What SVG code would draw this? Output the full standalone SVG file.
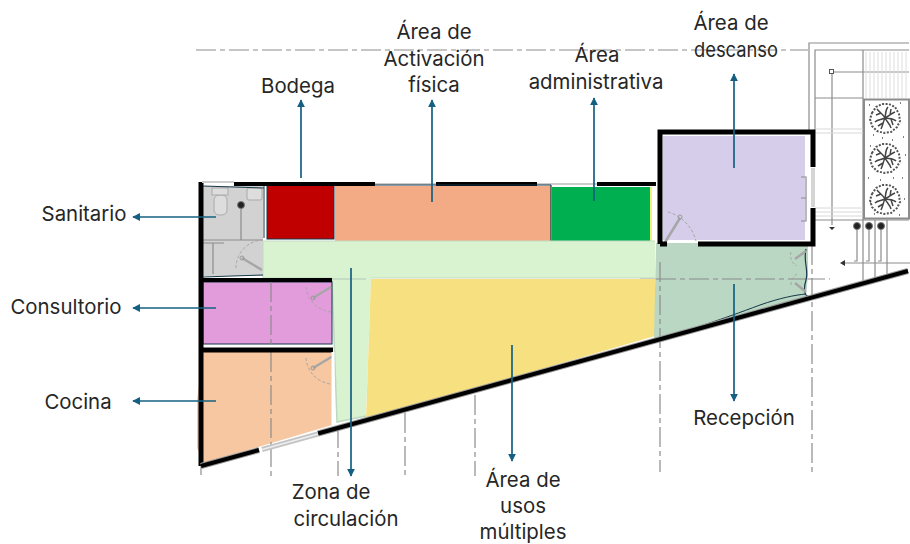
<svg xmlns="http://www.w3.org/2000/svg" width="910" height="544" viewBox="0 0 910 544">
<style>
text{font-family:Inter,"Liberation Sans",Arial,sans-serif;font-size:20.400px;fill:#262626;text-anchor:middle}
.wall{fill:none;stroke:#000;stroke-width:5}
.wall2{fill:none;stroke:#000;stroke-width:4}
.halo{fill:none;stroke:#999;stroke-width:6}
.thin{fill:none;stroke:#8c8c8c;stroke-width:1.200}
.faint{fill:none;stroke:#d8d8d8;stroke-width:1}
.axis{fill:none;stroke:#8c8c8c;stroke-width:1.200;stroke-dasharray:20 4 5 4}
.door{fill:none;stroke:#a6a6a6;stroke-width:1;stroke-dasharray:3 2}
.leaf{fill:none;stroke:#a6a6a6;stroke-width:2.500}
.arrow{fill:none;stroke:#156082;stroke-width:1.700;marker-end:url(#ah)}
.dot{fill:#222;stroke:#777;stroke-width:1}
</style>
<defs>
<marker id="ah" viewBox="0 0 10 10" refX="9" refY="5" markerWidth="4.600" markerHeight="4.600" orient="auto" markerUnits="strokeWidth"><path d="M0 0L10 5L0 10z" fill="#156082"/></marker>
<g id="tree">
<path d="M-13 -5L-9 -11L-3 -14L4 -14L10 -11L14 -4L15 3L12 9L6 14L-1 15L-8 13L-13 8L-15 1Z" fill="#fff" stroke="#555" stroke-width="2" stroke-dasharray="2 1.500"/>
<path d="M0 0C-2 -4 -6 -6 -8 -9M0 0C1 -4 0 -8 3 -11M0 0C4 -2 7 -5 10 -6M0 0C4 1 8 0 11 3M0 0C2 4 5 6 6 10M0 0C-2 4 -2 7 -4 11M0 0C-4 2 -7 1 -10 4M-4 -5L-9 -3M5 -3L6 -9M6 1L8 7M-2 5L-7 8" fill="none" stroke="#444" stroke-width="1.500"/>
</g>
</defs>
<g id="plan-background">
<path class="axis" d="M196 50H808M640 279H830"/>
<path class="axis" d="M812 245V472M660 262V472M405 413V476M475 395V476M271 348V476M338 428V476"/>
<path class="thin" d="M201 465V475"/>
<path class="thin" d="M809 130V43H909M815 130V50H909M815 98H863M863 50V98M832 72H909M832 72V225M815 220H909"/>
<path class="thin" d="M863 98V280"/>
<path class="faint" d="M815 129H863M815 133H863M815 208H863M815 212H863M815 216H863"/>
<rect x="829.500" y="69.500" width="4" height="4" fill="#fff" stroke="#555"/>
<path d="M866 52V98M870 52V98M874 52V98M878 52V98M882 52V98M886 52V98M890 52V98M894 52V98M898 52V98M902 52V98M906 52V98" stroke="#ddd" stroke-width="1"/>
<rect x="864" y="99.500" width="45" height="119" fill="#fff" stroke="#8c8c8c" stroke-width="2"/>
<use href="#tree" x="885" y="118"/><use href="#tree" x="885" y="158"/><use href="#tree" x="885" y="199"/>
<path d="M869 105h1M873 135h1M900 103h1M903 137h1M870 146h1M868 178h1M902 178h1M899 215h1M874 214h1M905 155h1M870 203h1M904 199h1M882 138h1M892 140h1M893 178h1M880 180h1" stroke="#555" stroke-width="1.500"/>
<path class="thin" d="M857 228V261H854M869 228V261H866M881 228V261H878M842 263H910M875 220V280M887 220V278"/>
<circle class="dot" cx="857" cy="226" r="3.500"/><circle class="dot" cx="869" cy="226" r="3.500"/><circle class="dot" cx="881" cy="226" r="3.500"/>
<path d="M840 263L845 260V266zM829 227H835L832 230z" fill="#333"/>
</g>
<g id="zona-sanitario"><rect x="203" y="186" width="60" height="90" fill="#d2d2d2"/><path class="thin" d="M203 240H263M241 205V240M213 243V274M203 243H224"/><circle class="dot" cx="241" cy="205" r="3.500"/><rect x="214" y="195" width="13" height="20" rx="5" fill="#ddd" stroke="#aaa"/><rect x="212" y="188" width="16" height="7" fill="#ddd" stroke="#aaa"/><rect x="247" y="188" width="15" height="12" rx="2" fill="#ddd" stroke="#aaa"/><path class="door" d="M236 268A28 28 0 0 1 262 240"/><path class="leaf" d="M242 258L262 270"/><circle cx="242" cy="258" r="2" fill="none" stroke="#999"/></g>
<g id="zona-bodega"><rect x="267" y="185" width="67" height="54" fill="#c00000" stroke="#17374a"/></g>
<g id="zona-activacion"><rect x="335" y="186" width="216" height="55" fill="#f3ab85"/><path d="M551 184V241" stroke="#17374a" stroke-width="1.200"/></g>
<g id="zona-administrativa"><rect x="552" y="187" width="98" height="54" fill="#00b050"/><path d="M651 187V241" stroke="#e8f04c" stroke-width="1.500"/></g>
<g id="zona-descanso"><rect x="663" y="136" width="142" height="104" fill="#d5cde9"/><path class="thin" d="M801 177H806V221H801M801 198H806"/><path class="door" d="M668 212A40 40 0 0 1 696 241"/><path class="leaf" d="M680 218L664 244"/><circle cx="680" cy="217" r="2" fill="none" stroke="#999"/></g>
<g id="zona-circulacion"><path d="M263 241H655V278H371L366 416L337 422L332 279H263Z" fill="#d9f2d0"/><path d="M263 241V278M263 241H655M263 278H332M371 278H655" fill="none" stroke="#c3dcc3" stroke-width="1"/><path d="M332 279L337 422L366 416M366 279H332" fill="none" stroke="#bdd8c0" stroke-width="1.500"/></g>
<g id="zona-consultorio"><rect x="203" y="282" width="129" height="62" fill="#e29cdc" stroke="#17374a"/><path class="axis" d="M271 282V344"/><path class="door" d="M306 287A28 28 0 0 0 331 312"/><path class="leaf" d="M313 298L331 287"/><circle cx="313" cy="298" r="2" fill="none" stroke="#999"/></g>
<g id="zona-cocina"><path d="M203 352H332V425L204 463L197 448V400Z" fill="#f6c7a0"/><path class="axis" d="M271 352V445"/><path class="door" d="M306 358A28 28 0 0 0 331 384"/><path class="leaf" d="M313 368L333 356"/><circle cx="313" cy="368" r="2" fill="none" stroke="#999"/></g>
<g id="zona-usos-multiples"><path d="M371 279H655V336L366 420Z" fill="#f6e07f"/></g>
<g id="zona-recepcion"><path d="M656 243H808V275L806 297L654 340Z" fill="#b9d7c2"/><path class="axis" d="M660 262V340M656 279H806"/><path d="M806 249C803 262 809 270 806 280C803 290 805 296 808 296" fill="none" stroke="#17374a" stroke-width="1.200"/><path d="M668 335C690 330 720 320 760 305C780 298 795 295 806 294" fill="none" stroke="#17374a" stroke-width="1"/><path class="door" d="M791 252A12 12 0 0 0 797 266M791 285A12 12 0 0 1 797 274"/><path class="leaf" d="M795 259L806 251M795 283L806 292"/></g>
<g id="muros">
<path class="wall" d="M201 466V182"/>
<path class="wall2" d="M234 184H375M436 184H537M597 184H656"/>
<path d="M202 182H234M375 184H436M537 184H597" stroke="#ccc" stroke-width="2"/>
<path d="M375 185H551" stroke="#17374a" stroke-width="1"/>
<path class="wall2" d="M202 280H332"/>
<path class="wall" d="M202 350H333"/>
<path class="halo" d="M201 466L259 450M318 433.500L908 271"/>
<path class="wall2" d="M201 466L259 450M318 433.500L908 271"/>
<path class="wall" d="M660 244V132H813V167M813 208V244H698M667 244H660"/>
<path d="M262 449.500L318 434" stroke="#c4c4c4" stroke-width="5"/><path d="M262 449.500L318 434" stroke="#eee" stroke-width="1.500"/>
<path d="M813 168V207" stroke="#d5d5d5" stroke-width="4"/>
<path d="M264 186V238M203 186L264 188M203 277L263 275" stroke="#17374a" stroke-width="1"/>
<path d="M333 352V425" stroke="#fff" stroke-width="3"/>
</g>
<g id="conectores">
<path class="arrow" d="M301 178V100"/>
<path class="arrow" d="M432 202V100"/>
<path class="arrow" d="M594 201V98"/>
<path class="arrow" d="M734 168V74"/>
<path class="arrow" d="M216 217H133"/>
<path class="arrow" d="M216 308H133"/>
<path class="arrow" d="M216 401H133"/>
<path class="arrow" d="M351 268V476"/>
<path class="arrow" d="M512 345V461"/>
<path class="arrow" d="M734 284V401"/>
</g>
<g id="etiquetas">
<text x="298" y="93">Bodega</text>
<text x="434" y="39">Área de</text><text x="434" y="66">Activación</text><text x="434" y="92">física</text>
<text x="597" y="62">Área</text><text x="596" y="89">administrativa</text>
<text x="731" y="30">Área de</text><text x="736" y="57" textLength="84" lengthAdjust="spacingAndGlyphs">descanso</text>
<text x="84" y="221">Sanitario</text>
<text x="66" y="314">Consultorio</text>
<text x="78" y="409">Cocina</text>
<text x="331" y="499">Zona de</text><text x="346" y="526">circulación</text>
<text x="523" y="487">Área de</text><text x="523" y="513">usos</text><text x="523" y="538.500">múltiples</text>
<text x="744" y="425">Recepción</text>
</g>
</svg>
